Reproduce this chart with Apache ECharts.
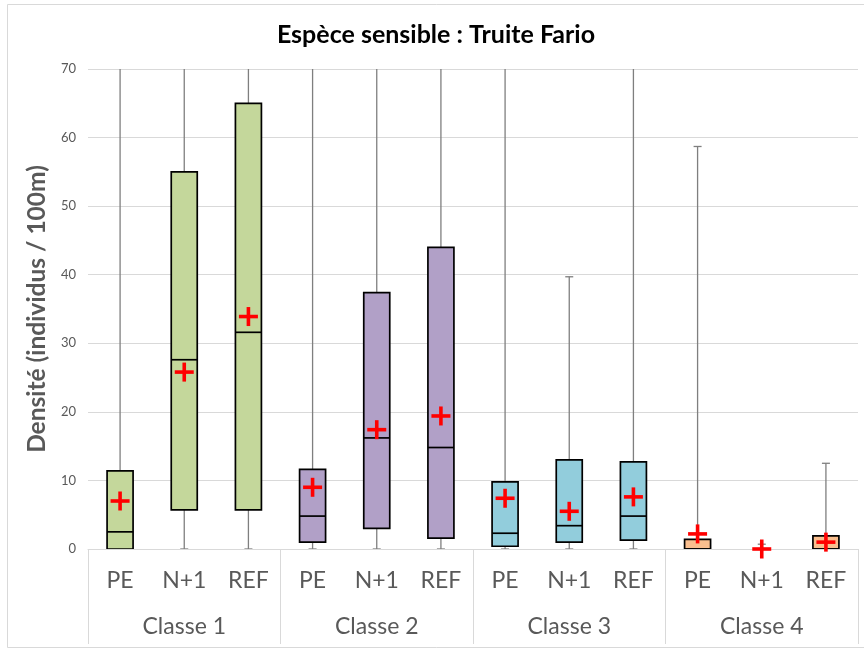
<!DOCTYPE html>
<html>
<head>
<meta charset="utf-8">
<script src="https://cdn.jsdelivr.net/npm/echarts@6/dist/echarts.min.js"></script>
<style>
  html, body { margin: 0; padding: 0; background: #fff; }
  #chart { width: 864px; height: 651px; }
</style>
</head>
<body>
<div id="chart"></div>
<script>
// Truite Fario densities (individus / 100m), per class and period
const groups = ['Classe 1', 'Classe 2', 'Classe 3', 'Classe 4'];
const periods = ['PE', 'N+1', 'REF'];

const whiskerLow  = [0, 0, 0,    0, 0, 0,    0, 0, 0,    0, 0, 0];
const quartile1   = [0, 5.7, 5.7, 1.0, 3.0, 1.6, 0.4, 1.0, 1.3, 0, 0, 0];
const medians     = [2.5, 27.6, 31.6, 4.8, 16.2, 14.8, 2.3, 3.4, 4.8, 0, 0, 0];
const quartile3   = [11.4, 55.0, 65.0, 11.6, 37.4, 44.0, 9.8, 13.0, 12.7, 1.4, 0, 1.9];
const whiskerHigh = [70, 70, 70, 70, 70, 70, 70, 39.7, 70, 58.7, 0.7, 12.5];
const means       = [7.0, 25.8, 33.9, 9.0, 17.4, 19.4, 7.4, 5.5, 7.6, 2.2, 0, 1.0];

const yMax = 70;
const groupFill = ['#c4d79b', '#b1a0c7', '#92cddc', '#fabf8f'];
const font = 'Lato, "Open Sans", sans-serif';

const categories = [];
groups.forEach(() => periods.forEach(p => categories.push(p)));

const boxData = categories.map((_, i) => [i, whiskerLow[i], quartile1[i], medians[i], quartile3[i], whiskerHigh[i]]);
const meanData = categories.map((_, i) => [i, means[i]]);

function renderBox(params, api) {
  const idx = api.value(0);
  const low = api.coord([idx, api.value(1)]);
  const b1 = api.coord([idx, api.value(2)]);
  const med = api.coord([idx, api.value(3)]);
  const b3 = api.coord([idx, api.value(4)]);
  const high = api.coord([idx, api.value(5)]);
  const x = low[0];
  const half = 13;
  const cap = 4;
  const fill = groupFill[Math.floor(idx / 3)];
  const whiskerStyle = { stroke: '#7f7f7f', lineWidth: 1.3 };
  const children = [
    { type: 'line', shape: { x1: x, y1: low[1], x2: x, y2: high[1] }, style: whiskerStyle },
    { type: 'line', shape: { x1: x - cap, y1: low[1], x2: x + cap, y2: low[1] }, style: whiskerStyle }
  ];
  // whiskers running past the top of the axis are cut off, so no cap there
  if (api.value(5) < yMax) {
    children.push({ type: 'line', shape: { x1: x - cap, y1: high[1], x2: x + cap, y2: high[1] }, style: whiskerStyle });
  }
  if (b1[1] - b3[1] > 0.5) {
    children.push({
      type: 'rect',
      shape: { x: x - half, y: b3[1], width: half * 2, height: b1[1] - b3[1] },
      style: { fill: fill, stroke: '#000', lineWidth: 1.7 }
    });
    children.push({
      type: 'line',
      shape: { x1: x - half, y1: med[1], x2: x + half, y2: med[1] },
      style: { stroke: '#000', lineWidth: 1.7 }
    });
  }
  return { type: 'group', children: children };
}

function renderMean(params, api) {
  const p = api.coord([api.value(0), api.value(1)]);
  const s = 9.5, t = 1.8;
  const style = { fill: '#ff0000' };
  return {
    type: 'group',
    children: [
      { type: 'rect', shape: { x: p[0] - s, y: p[1] - t, width: s * 2, height: t * 2 }, style: style },
      { type: 'rect', shape: { x: p[0] - t, y: p[1] - s, width: t * 2, height: s * 2 }, style: style }
    ]
  };
}

const chart = echarts.init(document.getElementById('chart'), null, { renderer: 'canvas' });
chart.setOption({
  animation: false,
  backgroundColor: '#fff',
  graphic: [
    {
      type: 'rect', silent: true, z: -1,
      shape: { x: 7.5, y: 4.5, width: 880, height: 643 },
      style: { fill: 'none', stroke: '#d9d9d9', lineWidth: 1 }
    },
    {
      type: 'text', x: 436, y: 35,
      style: {
        text: 'Espèce sensible : Truite Fario',
        font: 'bold 25px ' + font, fill: '#000',
        textAlign: 'center', textVerticalAlign: 'middle'
      }
    }
  ],
  grid: { left: 88, right: 6, top: 69, bottom: 102 },
  xAxis: [
    {
      type: 'category',
      data: categories,
      position: 'bottom',
      axisLine: { show: true, lineStyle: { color: '#d9d9d9', width: 1 } },
      axisTick: { show: false },
      axisLabel: { interval: 0, margin: 20, fontSize: 23, lineHeight: 24, color: '#595959', fontFamily: font }
    },
    {
      type: 'category',
      data: groups,
      position: 'bottom',
      axisLine: { show: false },
      axisTick: { show: true, interval: 0, length: 95, lineStyle: { color: '#d9d9d9', width: 1 } },
      axisLabel: { interval: 0, margin: 66, fontSize: 23, lineHeight: 24, color: '#595959', fontFamily: font }
    }
  ],
  yAxis: {
    type: 'value',
    min: 0, max: yMax, interval: 10,
    name: 'Densité (individus / 100m)',
    nameLocation: 'middle',
    nameGap: 34,
    nameTextStyle: { fontSize: 24.5, fontWeight: 'bold', color: '#595959', fontFamily: font },
    axisLine: { show: false },
    axisTick: { show: false },
    axisLabel: { margin: 12, fontSize: 13, color: '#595959', fontFamily: font },
    splitLine: { lineStyle: { color: '#d9d9d9', width: 1 } }
  },
  series: [
    {
      type: 'custom',
      xAxisIndex: 0,
      renderItem: renderBox,
      encode: { x: 0, y: [1, 2, 3, 4, 5] },
      data: boxData,
      clip: true,
      z: 2
    },
    {
      type: 'custom',
      xAxisIndex: 0,
      renderItem: renderMean,
      encode: { x: 0, y: 1 },
      data: meanData,
      z: 3
    }
  ]
});
</script>
</body>
</html>
